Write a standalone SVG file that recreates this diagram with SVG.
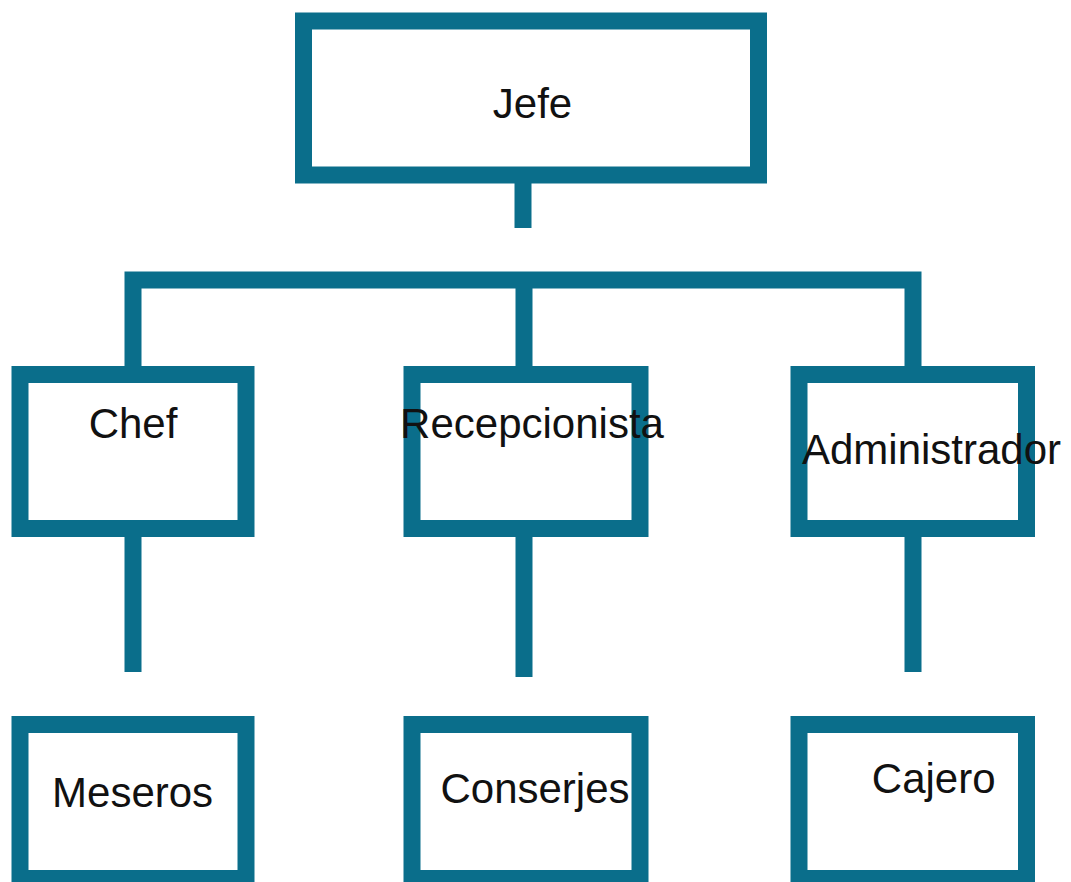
<svg xmlns="http://www.w3.org/2000/svg" width="1071" height="882" viewBox="0 0 1071 882">
<style>
.box{fill:#ffffff;stroke:#0a6e8b;stroke-width:17}
.con{fill:none;stroke:#0a6e8b;stroke-width:17;stroke-linejoin:miter;stroke-linecap:butt}
.lbl{font-family:"Liberation Sans",Arial,sans-serif;font-size:42px;fill:#111111;text-anchor:middle}
</style>
<rect width="1071" height="882" fill="#ffffff"/>
<g id="connectors">
<path class="con" d="M523 183 V228"/>
<path class="con" d="M133 366 V280 H913 V366"/>
<path class="con" d="M524 280 V366"/>
<path class="con" d="M133 537 V672"/>
<path class="con" d="M524 537 V677"/>
<path class="con" d="M913 537 V672"/>
</g>
<g id="jefe"><rect class="box" x="303.5" y="21" width="455" height="154"/><text class="lbl" x="532.5" y="118">Jefe</text></g>
<g id="chef"><rect class="box" x="20" y="374.5" width="226" height="154"/><text class="lbl" x="133" y="438">Chef</text></g>
<g id="recepcionista"><rect class="box" x="412" y="374.5" width="228" height="154"/><text class="lbl" x="532" y="438">Recepcionista</text></g>
<g id="administrador"><rect class="box" x="799" y="374.5" width="227.5" height="154"/><text class="lbl" x="931.5" y="464">Administrador</text></g>
<g id="meseros"><rect class="box" x="20" y="724.5" width="226" height="154"/><text class="lbl" x="132.6" y="807">Meseros</text></g>
<g id="conserjes"><rect class="box" x="412" y="724.5" width="228" height="154"/><text class="lbl" x="535" y="803">Conserjes</text></g>
<g id="cajero"><rect class="box" x="799" y="724.5" width="227.5" height="154"/><text class="lbl" x="933.7" y="793">Cajero</text></g>
</svg>
